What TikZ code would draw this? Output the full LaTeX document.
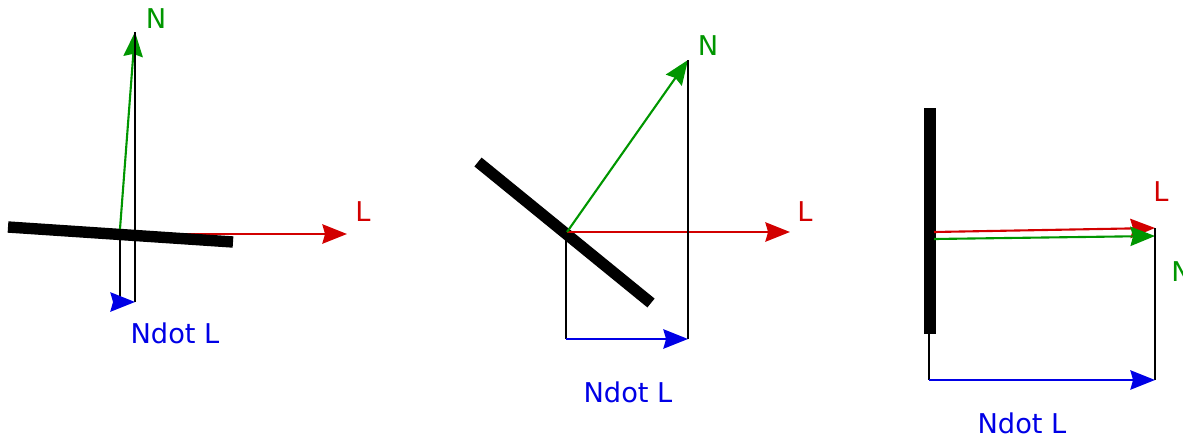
\documentclass[tikz,border=0pt]{standalone}
\usepackage{fontspec}
\setmainfont{DejaVu Sans}
\usetikzlibrary{arrows.meta}
\definecolor{VecRed}{RGB}{210,0,0}
\definecolor{VecGreen}{RGB}{0,150,0}
\definecolor{VecBlue}{RGB}{0,0,230}

\begin{document}
\begin{tikzpicture}[x=0.02cm, y=-0.02cm, >={Stealth[length=14pt, width=11pt, inset=1.5pt]},
        surface/.style={line width=6.5pt, black},
        vec/.style={->, line width=1.2pt},
        guide/.style={line width=0.6pt, black},
        lbl/.style={font=\fontsize{15.5}{18}\selectfont, inner sep=0pt}]
    \useasboundingbox (0,0) rectangle (1183,440);

    % grazing light
    \coordinate (o1) at (120,229);
    \coordinate (l1) at (347,234);
    \coordinate (n1) at (135,32);
    \coordinate (a1) at (120,302);
    \coordinate (b1) at (135,302);
    \draw[vec, VecRed] (120,234) -- (l1);
    \draw[surface] (8,227) -- (233,242);
    \draw[vec, VecGreen] (o1) -- (n1);
    \draw[guide] (n1) -- (b1);
    \draw[guide] (o1) -- (a1);
    \draw[vec, VecBlue] (a1) -- (b1);
    \node[lbl, VecGreen] (nl1) at (156,19) {N};
    \node[lbl, VecRed] (ll1) at (363,212) {L};
    \node[lbl, VecBlue] (dl1) at (175,333) {Ndot L};

    % light at an angle
    \coordinate (o2) at (567,232);
    \coordinate (l2) at (790,232);
    \coordinate (n2) at (688,60);
    \coordinate (a2) at (566,339);
    \coordinate (b2) at (688,339);
    \draw[surface] (478,162) -- (651,303);
    \draw[vec, VecRed] (o2) -- (l2);
    \draw[vec, VecGreen] (o2) -- (n2);
    \draw[guide] (n2) -- (b2);
    \draw[guide] (566,232) -- (a2);
    \draw[vec, VecBlue] (a2) -- (b2);
    \node[lbl, VecGreen] (nl2) at (708,46) {N};
    \node[lbl, VecRed] (ll2) at (805,212) {L};
    \node[lbl, VecBlue] (dl2) at (628,392) {Ndot L};

    % light along the normal
    \coordinate (l3) at (1155,228);
    \coordinate (n3) at (1155,236);
    \coordinate (a3) at (929,380);
    \coordinate (b3) at (1155,380);
    \draw[surface] (930,108) -- (930,334);
    \draw[vec, VecRed] (934,232) -- (l3);
    \draw[vec, VecGreen] (934,239) -- (n3);
    \draw[guide] (l3) -- (b3);
    \draw[guide] (929,334) -- (a3);
    \draw[vec, VecBlue] (a3) -- (b3);
    \node[lbl, VecRed] (ll3) at (1161,192) {L};
    \node[lbl, VecGreen, anchor=west] (nl3) at (1171,272) {N};
    \node[lbl, VecBlue] (dl3) at (1022,423) {Ndot L};
\end{tikzpicture}
\end{document}
